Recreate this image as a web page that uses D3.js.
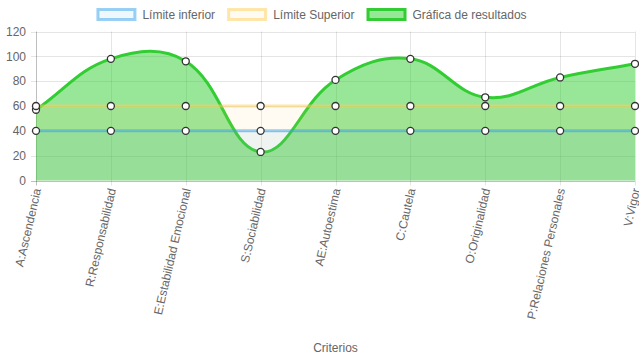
<!DOCTYPE html>
<html><head><meta charset="utf-8">
<script src="https://cdn.jsdelivr.net/npm/d3@7"></script>
<style>body{margin:0;background:#fff}svg{display:block;font-family:"Liberation Sans",Arial,sans-serif}</style>
</head><body>
<svg id="c" width="639" height="360"></svg>
<script>
const categories = ["A:Ascendencia","R:Responsabilidad","E:Estabilidad Emocional","S:Sociabilidad","AE:Autoestima","C:Cautela","O:Originalidad","P:Relaciones Personales","V:Vigor"];
const lowerLimit = [40,40,40,40,40,40,40,40,40];
const upperLimit = [60,60,60,60,60,60,60,60,60];
const results = [57,98,96,23,81,98,67,83,94];
const yTicks = [0,20,40,60,80,100,120];
const seriesNames = ["Límite inferior","Límite Superior","Gráfica de resultados"];
const xTitle = "Criterios";

const svg = d3.select("#c");
const L = 36, R = 635, T = 31.5, B = 180.5;
const x = d3.scalePoint().domain(categories).range([L, R]);
const y = d3.scaleLinear().domain([0,120]).range([B, T]);
const gridC = "rgba(0,0,0,0.1)", txtC = "#666";

// grid
const g = svg.append("g");
g.selectAll(".hg").data(yTicks).join("line")
  .attr("x1", L-5).attr("x2", R).attr("y1", d=>Math.round(y(d))+0.5).attr("y2", d=>Math.round(y(d))+0.5)
  .attr("stroke", d=> d===0 ? "rgba(0,0,0,0.25)" : gridC);
g.selectAll(".vg").data(categories).join("line")
  .attr("x1", d=>Math.round(x(d))+0.5).attr("x2", d=>Math.round(x(d))+0.5).attr("y1", T).attr("y2", B+5)
  .attr("stroke", (d,i)=> i===0 ? "rgba(0,0,0,0.25)" : gridC);

// y labels
g.selectAll(".yl").data(yTicks).join("text")
  .attr("x", L-10).attr("y", d=>y(d)).attr("dy","0.35em").attr("text-anchor","end")
  .attr("font-size",12).attr("fill",txtC).text(d=>d);

// x labels
g.selectAll(".xl").data(categories).join("text")
  .attr("transform", d=>`translate(${x(d)+1},${B+8}) rotate(-77)`)
  .attr("text-anchor","end").attr("font-size",12).attr("fill",txtC).attr("dy","0.35em").text(d=>d);

svg.append("text").attr("x",(L+R)/2).attr("y",352).attr("text-anchor","middle")
  .attr("font-size",12).attr("fill",txtC).text(xTitle);

// Chart.js-like spline
function splinePath(vals, tension){
  const pts = vals.map((v,i)=>[x(categories[i]), y(v)]);
  const cps = pts.map((p,i)=>{
    const prev = pts[i-1]||p, next = pts[i+1]||p;
    const d01 = Math.hypot(p[0]-prev[0], p[1]-prev[1]);
    const d12 = Math.hypot(next[0]-p[0], next[1]-p[1]);
    let s01 = d01/(d01+d12), s12 = d12/(d01+d12);
    if (isNaN(s01)) s01=0; if (isNaN(s12)) s12=0;
    const fa = tension*s01, fb = tension*s12;
    const clamp = (px,py)=>[Math.max(L,Math.min(R,px)), Math.max(T,Math.min(B,py))];
    return {
      prev: clamp(p[0]-fa*(next[0]-prev[0]), p[1]-fa*(next[1]-prev[1])),
      next: clamp(p[0]+fb*(next[0]-prev[0]), p[1]+fb*(next[1]-prev[1]))
    };
  });
  const path = d3.path();
  path.moveTo(pts[0][0], pts[0][1]);
  for (let i=1;i<pts.length;i++){
    path.bezierCurveTo(cps[i-1].next[0], cps[i-1].next[1], cps[i].prev[0], cps[i].prev[1], pts[i][0], pts[i][1]);
  }
  return {line: path.toString(), pts};
}

const datasets = [
  {vals: lowerLimit, border:"rgba(54,162,235,0.5)", fill:"rgba(54,162,235,0.08)"},
  {vals: upperLimit, border:"rgba(255,205,86,0.5)", fill:"rgba(255,205,86,0.08)"},
  {vals: results, border:"#32cd32", fill:"rgba(50,205,50,0.5)"}
];

// draw in reverse order (first dataset on top)
const plot = svg.append("g");
const drawn = [];
for (let k=datasets.length-1;k>=0;k--){
  const ds = datasets[k];
  const sp = splinePath(ds.vals, 0.4);
  const area = sp.line + `L${R},${y(0)}L${L},${y(0)}Z`;
  plot.append("path").attr("d", area).attr("fill", ds.fill);
  plot.append("path").attr("d", sp.line).attr("fill","none").attr("stroke", ds.border).attr("stroke-width",3);
  drawn.push(sp.pts);
}
drawn.forEach(pts=>{
  plot.selectAll(null).data(pts).join("circle")
    .attr("cx", d=>d[0]).attr("cy", d=>d[1]).attr("r",3.5)
    .attr("fill","#fff").attr("stroke","#333").attr("stroke-width",1.3);
});

// legend
const legendCols = [["rgba(54,162,235,0.5)","rgba(54,162,235,0.08)"],["rgba(255,205,86,0.5)","rgba(255,205,86,0.08)"],["#32cd32","rgba(50,205,50,0.5)"]];
const lg = svg.append("g");
const boxW = 40, gap = 12;
const widths = seriesNames.map(n=>{
  const t = lg.append("text").attr("font-size",12).text(n);
  const w = t.node().getComputedTextLength(); t.remove(); return boxW + 6 + w;
});
const total = d3.sum(widths) + gap*(widths.length-1);
let cx = (639 - total)/2 - 8;
seriesNames.forEach((n,i)=>{
  lg.append("rect").attr("x", cx+1.5).attr("y", 9.5).attr("width", boxW-3).attr("height", 10)
    .attr("fill", legendCols[i][1]).attr("stroke", legendCols[i][0]).attr("stroke-width",3);
  lg.append("text").attr("x", cx+boxW+6).attr("y", 15).attr("dy","0.35em").attr("font-size",12).attr("fill",txtC).text(n);
  cx += widths[i] + gap;
});
</script>
</body></html>
